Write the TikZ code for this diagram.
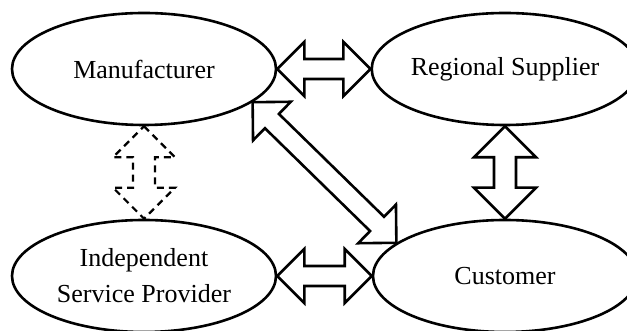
\documentclass[tikz,border=0pt]{standalone}
\usepackage{fontspec}
\setmainfont{Liberation Serif}
\usepackage{tikz}
\usetikzlibrary{shapes.geometric,calc}
\tikzset{
  party/.style={ellipse,draw=black,line width=1.3pt,minimum width=132pt,minimum height=56pt,inner sep=0pt,align=center},
  head len/.store in=\ahlen, head half/.store in=\ahhalf, shaft half/.store in=\ashaft,
  head len=13.5pt, head half=13.5pt, shaft half=5pt,
  flow/.style={draw=black,line width=1.3pt,line join=miter},
  flowv/.style={flow,head len=15.5pt,head half=15.5pt,shaft half=5.5pt},
  flowd/.style={flowv,dash pattern=on 3.5pt off 2.5pt,line width=1.1pt},
}
\newcommand{\dblarrow}[3][]{%
  \draw[flow,#1] (#2)
    -- ($(#2)!\ahlen!(#3)!\ahhalf!90:(#3)$) -- ($(#2)!\ahlen!(#3)!\ashaft!90:(#3)$)
    -- ($(#3)!\ahlen!(#2)!\ashaft!-90:(#2)$) -- ($(#3)!\ahlen!(#2)!\ahhalf!-90:(#2)$)
    -- (#3)
    -- ($(#3)!\ahlen!(#2)!\ahhalf!90:(#2)$) -- ($(#3)!\ahlen!(#2)!\ashaft!90:(#2)$)
    -- ($(#2)!\ahlen!(#3)!\ashaft!-90:(#3)$) -- ($(#2)!\ahlen!(#3)!\ahhalf!-90:(#3)$)
    -- cycle;}

\begin{document}
\begin{tikzpicture}[x=0.5pt,y=0.5pt,font=\fontsize{13}{18}\selectfont]
  \useasboundingbox (0,0) rectangle (627,331);
  \node[party] (man) at (144,262) {Manufacturer};
  \node[party] (sup) at (505,262) {Regional Supplier};
  \node[party] (isp) at (144,55) {Independent\\Service Provider};
  \node[party] (cust) at (505,55) {Customer};
  \dblarrow{man.east}{sup.west}
  \dblarrow{isp.east}{cust.west}
  \dblarrow{man.-17}{cust.163}
  \dblarrow[flowv]{sup.south}{cust.north}
  \dblarrow[flowd]{man.south}{isp.north}
\end{tikzpicture}
\end{document}
